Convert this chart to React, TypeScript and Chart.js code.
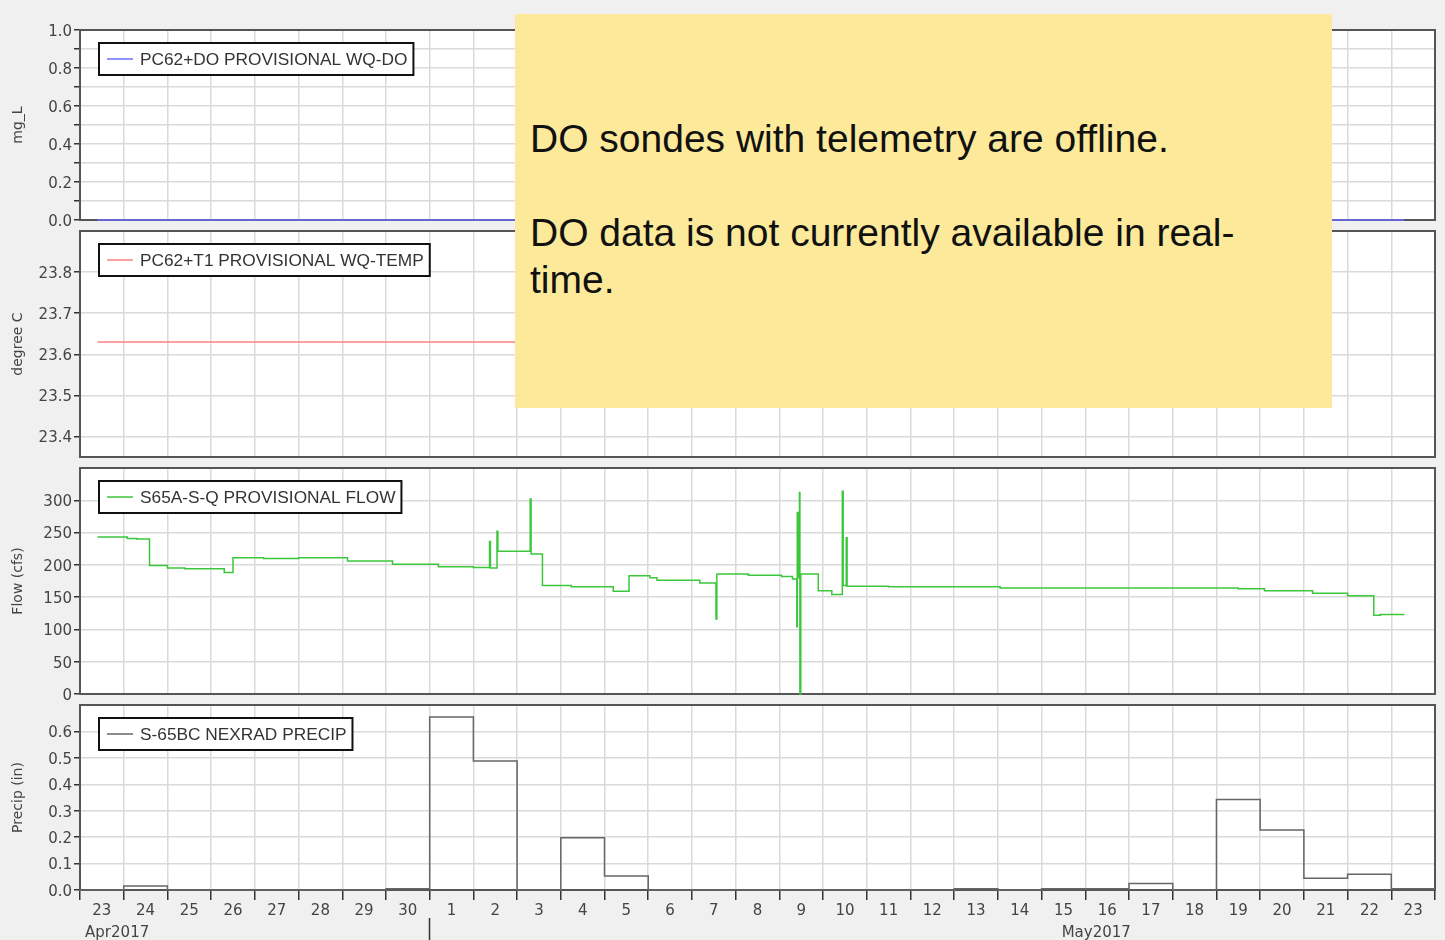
import React, { useEffect, useRef } from 'react';
import { Chart, registerables } from 'chart.js';

Chart.register(...registerables);

// ---------- data ----------
const dayLabels = ['23', '24', '25', '26', '27', '28', '29', '30', '1', '2', '3', '4', '5', '6', '7', '8', '9', '10', '11', '12', '13', '14', '15', '16', '17', '18', '19', '20', '21', '22', '23'];
const monthLabels = ['Apr2017', 'May2017'];
const monthLabelDays = [0.85, 23.25];
const monthBoundaryDay = 8;

// x values are days since 23 Apr 2017 00:00
const doTimes = [0.4, 30.3];
const doValues = [0, 0];

const tempTimes = [0.4, 20.0];
const tempValues = [23.63, 23.63];

const flowTimes = [0.40, 1.08, 1.30, 1.59, 2.00, 2.40, 3.30, 3.50, 4.20, 5.00, 6.12, 7.15, 8.20, 9.00, 9.37, 9.39, 9.54, 9.56, 10.30, 10.32, 10.58, 11.24, 12.20, 12.56, 13.04, 13.20, 14.18, 14.55, 14.57, 15.29, 16.05, 16.30, 16.40, 16.41, 16.43, 16.46, 16.47, 16.49, 16.89, 17.20, 17.44, 17.46, 17.53, 17.55, 18.50, 21.05, 26.50, 27.10, 28.20, 29.00, 29.60, 29.75, 30.30];
const flowValues = [243, 241, 240, 199, 195, 194, 188, 211, 210, 211, 206, 201, 197, 196, 236, 195, 252, 221, 302, 217, 168, 166, 159, 183, 180, 176, 172, 116, 186, 184, 182, 178, 104, 281, 180, 312, 0, 186, 160, 154, 314, 168, 242, 167, 166, 164, 163, 160, 156, 152, 122, 123, 123];

// daily precipitation, one value per day label
const precipValues = [0, 0.015, 0, 0, 0, 0, 0, 0.005, 0.655, 0.488, 0, 0.198, 0.053, 0, 0, 0, 0, 0, 0, 0, 0.005, 0, 0.005, 0.005, 0.025, 0, 0.342, 0.227, 0.044, 0.06, 0.005];

const doTicks = [0, 0.1, 0.2, 0.3, 0.4, 0.5, 0.6, 0.7, 0.8, 0.9, 1.0];
const tempTicks = [23.4, 23.5, 23.6, 23.7, 23.8];
const flowTicks = [0, 50, 100, 150, 200, 250, 300];
const precipTicks = [0, 0.1, 0.2, 0.3, 0.4, 0.5, 0.6];

// ---------- styles ----------
const FONT = '"DejaVu Sans", "Liberation Sans", Arial, sans-serif';
const LEGEND_FONT = '"Liberation Sans", Arial, sans-serif';
const GRID = '#dadada';
const TEXT = '#444';
const AXIS = '#555';

const whiteArea = {
  id: 'whiteArea',
  beforeDraw(chart: any) {
    const { ctx, chartArea: a } = chart;
    ctx.save();
    ctx.fillStyle = '#ffffff';
    ctx.fillRect(a.left, a.top, a.right - a.left, a.bottom - a.top);
    ctx.restore();
  },
};

const frame = {
  id: 'frame',
  beforeDatasetsDraw(chart: any) {
    const { ctx, chartArea: a } = chart;
    ctx.save();
    ctx.strokeStyle = AXIS;
    ctx.lineWidth = 2;
    ctx.strokeRect(a.left, a.top, a.right - a.left, a.bottom - a.top);
    ctx.restore();
  },
};

const legendBox = {
  id: 'legendBox',
  afterDatasetsDraw(chart: any) {
    const ds = chart.data.datasets[0];
    const { ctx, chartArea: a } = chart;
    ctx.save();
    ctx.font = '17.3px ' + LEGEND_FONT;
    const tw = ctx.measureText(ds.label).width;
    const x = a.left + 19;
    const y = a.top + 13;
    const w = 41 + tw + 6;
    const h = 32;
    ctx.fillStyle = '#ffffff';
    ctx.fillRect(x, y, w, h);
    ctx.strokeStyle = '#111';
    ctx.lineWidth = 2;
    ctx.strokeRect(x, y, w, h);
    ctx.strokeStyle = ds.borderColor;
    ctx.lineWidth = 1.5;
    ctx.beginPath();
    ctx.moveTo(x + 8, y + h / 2);
    ctx.lineTo(x + 34, y + h / 2);
    ctx.stroke();
    ctx.fillStyle = '#333';
    ctx.textBaseline = 'middle';
    ctx.textAlign = 'left';
    ctx.fillText(ds.label, x + 41, y + h / 2 + 1);
    ctx.restore();
  },
};

type PanelDef = {
  canvasTop: number;
  canvasHeight: number;
  padBottom: number;
  label: string;
  color: string;
  points: { x: number; y: number }[];
  yMin: number;
  yMax: number;
  yTicks: number[];
  yTitle: string;
  fmt: (v: number) => string;
  bottom: boolean;
};

const zip = (xs: number[], ys: number[]) => xs.map((x, i) => ({ x, y: ys[i] }));

const precipPoints = precipValues
  .map((v, i) => ({ x: i, y: v }))
  .concat([{ x: precipValues.length, y: precipValues[precipValues.length - 1] }]);

const panels: PanelDef[] = [
  {
    canvasTop: 0, canvasHeight: 232, padBottom: 12,
    label: 'PC62+DO PROVISIONAL WQ-DO', color: '#6b6bff',
    points: zip(doTimes, doValues), yMin: 0, yMax: 1, yTicks: doTicks, yTitle: 'mg_L',
    fmt: (v) => (Math.round(v * 10) % 2 === 0 ? v.toFixed(1) : ''), bottom: false,
  },
  {
    canvasTop: 201, canvasHeight: 268, padBottom: 12,
    label: 'PC62+T1 PROVISIONAL WQ-TEMP', color: '#ff8080',
    points: zip(tempTimes, tempValues), yMin: 23.35, yMax: 23.9, yTicks: tempTicks, yTitle: 'degree C',
    fmt: (v) => v.toFixed(1), bottom: false,
  },
  {
    canvasTop: 438, canvasHeight: 268, padBottom: 12,
    label: 'S65A-S-Q PROVISIONAL FLOW', color: '#3cc63c',
    points: zip(flowTimes, flowValues), yMin: 0, yMax: 350, yTicks: flowTicks, yTitle: 'Flow (cfs)',
    fmt: (v) => String(v), bottom: false,
  },
  {
    canvasTop: 675, canvasHeight: 265, padBottom: 0,
    label: 'S-65BC NEXRAD PRECIP', color: '#666666',
    points: precipPoints, yMin: 0, yMax: 0.7, yTicks: precipTicks, yTitle: 'Precip (in)',
    fmt: (v) => v.toFixed(1), bottom: true,
  },
];

function makeConfig(p: PanelDef): any {
  const scales: any = {
    x: { type: 'linear', min: 0, max: dayLabels.length, display: false },
    days: {
      type: 'category',
      labels: dayLabels,
      position: 'bottom',
      offset: true,
      grid: {
        offset: true,
        color: GRID,
        lineWidth: 1.5,
        drawTicks: p.bottom,
        tickLength: 10,
        tickColor: '#333',
        tickWidth: 1.5,
      },
      border: { display: false },
      ticks: {
        display: p.bottom,
        color: TEXT,
        font: { family: FONT, size: 15 },
        padding: 2,
        autoSkip: false,
        maxRotation: 0,
      },
      afterFit: (s: any) => { s.height = p.bottom ? 28 : 0; },
    },
    y: {
      type: 'linear',
      position: 'left',
      min: p.yMin,
      max: p.yMax,
      afterBuildTicks: (s: any) => { s.ticks = p.yTicks.map((v) => ({ value: v })); },
      ticks: {
        callback: (v: number) => p.fmt(v),
        color: TEXT,
        font: { family: FONT, size: 15 },
        padding: 2,
        labelOffset: 2,
        autoSkip: false,
      },
      grid: { color: GRID, lineWidth: 1.5, tickLength: 6, tickColor: '#333', tickWidth: 1.5 },
      border: { color: AXIS, width: 2 },
      title: {
        display: true,
        text: p.yTitle,
        color: TEXT,
        font: { family: FONT, size: 14 },
        padding: { top: 10, bottom: 0 },
      },
      afterFit: (s: any) => { s.width = 80; },
    },
  };
  if (p.bottom) {
    scales.month = {
      type: 'linear',
      position: 'bottom',
      weight: 1,
      min: 0,
      max: dayLabels.length,
      afterBuildTicks: (s: any) => {
        s.ticks = [{ value: monthLabelDays[0] }, { value: monthBoundaryDay }, { value: monthLabelDays[1] }];
      },
      ticks: {
        callback: (v: number) => (v === monthLabelDays[0] ? monthLabels[0] : v === monthLabelDays[1] ? monthLabels[1] : ''),
        color: TEXT,
        font: { family: FONT, size: 15 },
        padding: -16,
        autoSkip: false,
        maxRotation: 0,
      },
      grid: {
        drawOnChartArea: false,
        tickLength: 22,
        tickWidth: 1.5,
        tickColor: (ctx: any) => (ctx.tick && ctx.tick.value === monthBoundaryDay ? '#333' : 'rgba(0,0,0,0)'),
      },
      border: { display: false },
      afterFit: (s: any) => { s.height = 22; },
    };
  }
  return {
    type: 'line',
    data: {
      datasets: [
        {
          label: p.label,
          data: p.points,
          borderColor: p.color,
          borderWidth: 1.5,
          pointRadius: 0,
          stepped: true,
          fill: false,
          xAxisID: 'x',
          yAxisID: 'y',
          clip: 4,
        },
      ],
    },
    options: {
      responsive: false,
      animation: false,
      events: [],
      layout: { padding: { top: 30, bottom: p.padBottom, left: 0, right: 10 } },
      plugins: { legend: { display: false }, tooltip: { enabled: false } },
      scales,
    },
    plugins: [whiteArea, frame, legendBox],
  };
}

function Panel({ def }: { def: PanelDef }) {
  const ref = useRef<HTMLCanvasElement>(null);
  useEffect(() => {
    const chart = new Chart(ref.current as HTMLCanvasElement, makeConfig(def));
    return () => chart.destroy();
  }, [def]);
  return (
    <canvas
      ref={ref}
      width={1445}
      height={def.canvasHeight}
      style={{ position: 'absolute', left: 0, top: def.canvasTop, width: 1445, height: def.canvasHeight }}
    />
  );
}

export default function App() {
  return (
    <div style={{ position: 'absolute', left: 0, top: 0, width: 1445, height: 940, background: '#f0f0f0', overflow: 'hidden' }}>
      {panels.map((p, i) => (
        <Panel key={i} def={p} />
      ))}
      <div
        style={{
          position: 'absolute',
          left: 515,
          top: 14,
          width: 817,
          height: 394,
          boxSizing: 'border-box',
          background: '#fde99a',
          padding: '101px 40px 0 15px',
          fontFamily: '"Liberation Sans", Arial, sans-serif',
          fontSize: 39,
          lineHeight: '47px',
          color: '#111',
        }}
      >
        <div>DO sondes with telemetry are offline.</div>
        <div style={{ height: 47 }} />
        <div>DO data is not currently available in real-time.</div>
      </div>
    </div>
  );
}
